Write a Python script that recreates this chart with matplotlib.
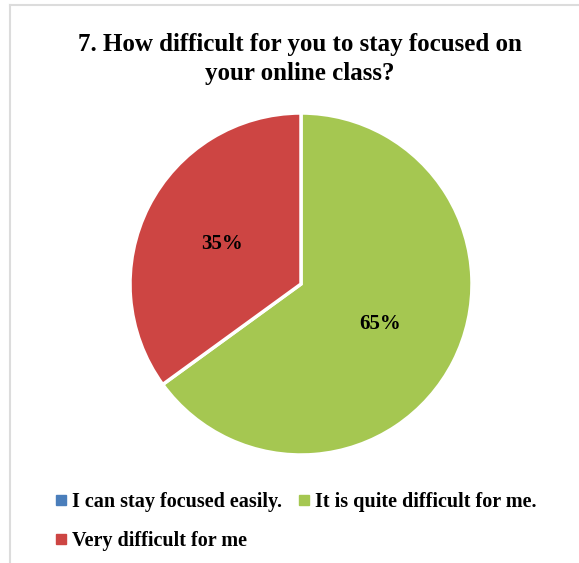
import matplotlib.pyplot as plt
from matplotlib.lines import Line2D

# Dados do gráfico
labels = ['I can stay focused easily.', 'It is quite difficult for me.', 'Very difficult for me']
values = [0, 65, 35]
colors = ['#4a7ebb', '#a5c751', '#cd4543']
title = '7. How difficult for you to stay focused on\nyour online class?'

plt.rcParams['font.family'] = ['Liberation Serif', 'DejaVu Serif']

W, H = 579, 563
fig = plt.figure(figsize=(W / 100, H / 100), dpi=100)

# Eixo da pizza (centro ~ (301, 284), raio ~ 171 px)
cx, cy, r = 301, 284, 171
ax = fig.add_axes([(cx - r) / W, 1 - (cy + r) / H, 2 * r / W, 2 * r / H])


def fmt(p):
    return f'{p:.0f}%' if p > 0.5 else ''


wedges, _, autotexts = ax.pie(values, colors=colors, startangle=90, counterclock=False,
                              autopct=fmt, pctdistance=0.52,
                              wedgeprops=dict(edgecolor='white', linewidth=2.5),
                              textprops=dict(fontsize=15, fontweight='bold', color='black'))
ax.set_xlim(-1, 1)
ax.set_ylim(-1, 1)
ax.set_aspect('auto')

fig.text(300 / W, 1 - 59 / H, title, ha='center', va='center', fontsize=18,
         fontweight='bold', linespacing=1.3)

# Legenda: linha 1 = itens 1 e 2, linha 2 = item 3
handles = [Line2D([], [], marker='s', linestyle='', markersize=6.5, color=c) for c in colors]
order = [0, 2, 1]
fig.legend([handles[i] for i in order], [labels[i] for i in order], ncol=2,
           loc='upper left', bbox_to_anchor=(47 / W, 1 - 484 / H), frameon=False,
           prop=dict(size=14.5, weight='bold'), handlelength=0.6, handletextpad=0.25,
           columnspacing=0.8, labelspacing=0.95, borderaxespad=0)

# Borda cinza clara (topo e esquerda)
fig.add_artist(Line2D([10 / W, 1], [1 - 5 / H, 1 - 5 / H], color='#dcdcdc', linewidth=1.5))
fig.add_artist(Line2D([10 / W, 10 / W], [0, 1 - 5 / H], color='#dcdcdc', linewidth=1.5))

fig.savefig('out.png', dpi=100)
